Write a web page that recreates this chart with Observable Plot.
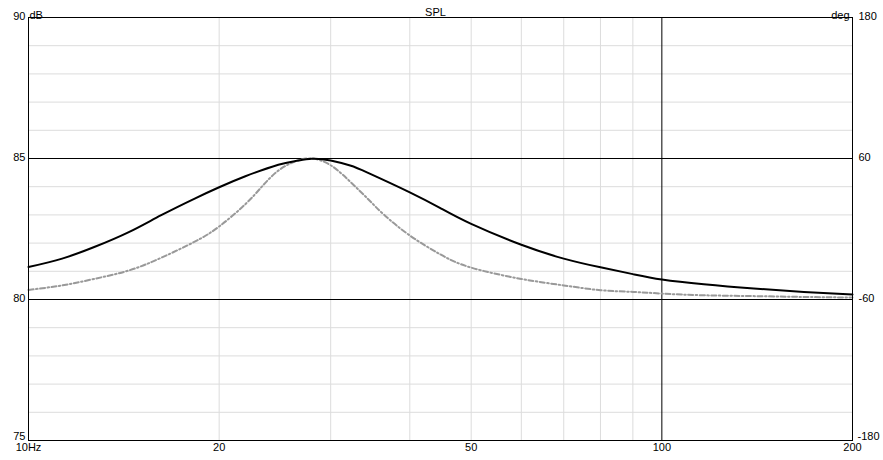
<!DOCTYPE html>
<html>
<head>
<meta charset="utf-8">
<script src="https://cdn.jsdelivr.net/npm/d3@7"></script>
<script src="https://cdn.jsdelivr.net/npm/@observablehq/plot@0.6"></script>
<style>
  html, body { margin: 0; padding: 0; background: #fff; }
</style>
</head>
<body>
<div id="chart"></div>
<script>
// Black solid curve (SPL, dB)
const blackHz = [10, 11.3, 12.7, 14.4, 16.2, 18.3, 20, 22, 24.8, 26.4, 28, 30, 32.2, 34.3, 40, 44.7, 50, 60, 70, 80, 90, 100, 116.5, 139.7, 167.6, 200];
const blackDb = [81.15, 81.45, 81.86, 82.39, 82.99, 83.58, 83.98, 84.37, 84.78, 84.91, 84.99, 84.93, 84.75, 84.5, 83.8, 83.24, 82.68, 81.94, 81.45, 81.14, 80.9, 80.71, 80.54, 80.39, 80.27, 80.18];

// Grey dash-dot curve (dB)
const greyHz = [10, 11.3, 12.7, 14.4, 16.2, 18.3, 20, 22, 23.4, 24.8, 26.4, 28, 30, 32.2, 34.3, 36.4, 40, 44.7, 50, 60, 70, 80, 90, 100, 116.5, 139.7, 167.6, 200];
const greyDb = [80.34, 80.5, 80.73, 81.03, 81.48, 82.05, 82.59, 83.38, 84.02, 84.57, 84.9, 85.0, 84.76, 84.18, 83.58, 83.01, 82.27, 81.6, 81.13, 80.73, 80.5, 80.33, 80.27, 80.21, 80.15, 80.12, 80.09, 80.07];

// Axes / grid
const dbTicks = [90, 85, 80, 75];
const degTickLabels = ["180", "60", "-60", "-180"];
const hzTicks = [10, 20, 50, 100, 200];
const hzTickLabels = ["10Hz", "20", "50", "100", "200"];
const minorDb = [76, 77, 78, 79, 81, 82, 83, 84, 86, 87, 88, 89];
const majorDb = [80, 85];
const minorHz = [20, 30, 40, 50, 60, 70, 80, 90];
const majorHz = [100];
const title = "SPL";
const leftUnit = "dB";
const rightUnit = "deg";

const black = blackHz.map((f, i) => ({f, db: blackDb[i]}));
const grey = greyHz.map((f, i) => ({f, db: greyDb[i]}));

const font = "'Liberation Sans', Arial, sans-serif";

const chart = Plot.plot({
  width: 883,
  height: 460,
  marginLeft: 28,
  marginRight: 31,
  marginTop: 17,
  marginBottom: 20,
  style: {fontFamily: font, fontSize: "11px", background: "#fff", color: "#000"},
  x: {type: "log", domain: [10, 200]},
  y: {domain: [75, 90]},
  marks: [
    Plot.ruleY(minorDb, {stroke: "#dcdcdc", strokeWidth: 1}),
    Plot.ruleX(minorHz, {stroke: "#dcdcdc", strokeWidth: 1}),
    Plot.ruleY(majorDb, {stroke: "#000", strokeWidth: 1}),
    Plot.ruleX(majorHz, {stroke: "#000", strokeWidth: 1}),
    Plot.line(grey, {x: "f", y: "db", stroke: "#999", strokeWidth: 2, strokeDasharray: "5,2.5,1.5,2.5", curve: "natural"}),
    Plot.line(black, {x: "f", y: "db", stroke: "#000", strokeWidth: 2, curve: "natural"}),
    Plot.frame({stroke: "#000", strokeWidth: 1}),
    Plot.axisY(dbTicks.slice(0, 3), {anchor: "left", tickSize: 0, tickPadding: 3, dy: -1, tickFormat: d => String(d), label: null}),
    Plot.axisY(dbTicks.slice(3), {anchor: "left", tickSize: 0, tickPadding: 3, dy: -4, tickFormat: d => String(d), label: null}),
    Plot.axisY(dbTicks.slice(0, 3), {anchor: "right", tickSize: 0, tickPadding: 6, dy: -1, tickFormat: d => degTickLabels[dbTicks.indexOf(d)], label: null}),
    Plot.axisY(dbTicks.slice(3), {anchor: "right", tickSize: 0, tickPadding: 5, dy: -4, tickFormat: d => degTickLabels[dbTicks.indexOf(d)], label: null}),
    Plot.axisX(hzTicks, {anchor: "bottom", tickSize: 0, tickPadding: 3, tickFormat: d => hzTickLabels[hzTicks.indexOf(d)], label: null}),
    Plot.text([title], {frameAnchor: "top", dx: -5, dy: -9, fill: "#000"}),
    Plot.text([leftUnit], {frameAnchor: "top-left", textAnchor: "start", dx: 1, dy: -6, fill: "#000"}),
    Plot.text([rightUnit], {frameAnchor: "top-right", textAnchor: "end", dx: -3, dy: -6, fill: "#000"})
  ]
});
document.getElementById("chart").appendChild(chart);
</script>
</body>
</html>
